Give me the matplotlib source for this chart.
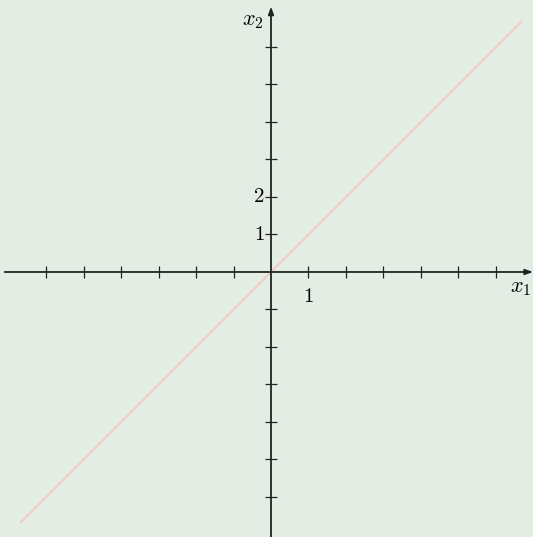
import numpy as np
import matplotlib
matplotlib.use("Agg")
import matplotlib.pyplot as plt

plt.rcParams['mathtext.fontset'] = 'cm'
plt.rcParams['font.family'] = 'serif'
plt.rcParams['font.serif'] = ['DejaVu Serif']

# data
line_x = [-6.67, 6.67]
line_y = [-6.67, 6.67]
x_ticks = [-6, -5, -4, -3, -2, -1, 1, 2, 3, 4, 5, 6]
y_ticks = [-6, -5, -4, -3, -2, -1, 1, 2, 3, 4, 5, 6]
x_tick_labels = {1: r"$1$"}
y_tick_labels = {1: r"$1$", 2: r"$2$"}

bg = '#e4ede4'
ax_col = '#222222'

fig = plt.figure(figsize=(5.33, 5.37), dpi=100, facecolor=bg)
ax = fig.add_axes([0, 0, 1, 1])
ax.set_facecolor(bg)
ax.set_xlim(-7.227, 6.987)
ax.set_ylim(-7.067, 7.253)
ax.axis('off')

# the line y = x
ax.plot(line_x, line_y, color='#f7c6c0', lw=1.3, zorder=2)

# axes with arrows
ax.annotate('', xy=(6.99, 0), xytext=(-7.1, 0),
            arrowprops=dict(arrowstyle='-|>,head_length=0.45,head_width=0.16',
                            color=ax_col, lw=1.3, shrinkA=0, shrinkB=0), zorder=3)
ax.annotate('', xy=(0, 7.08), xytext=(0, -7.1),
            arrowprops=dict(arrowstyle='-|>,head_length=0.45,head_width=0.16',
                            color=ax_col, lw=1.3, shrinkA=0, shrinkB=0), zorder=3)

# tick marks
ax.plot(x_ticks, [0] * len(x_ticks), ls='none', marker='|', ms=8, mew=0.9, color=ax_col, zorder=3)
ax.plot([0] * len(y_ticks), y_ticks, ls='none', marker='_', ms=8, mew=0.9, color=ax_col, zorder=3)

for v, s in x_tick_labels.items():
    ax.text(v, -0.4, s, ha='center', va='top', fontsize=15)
for v, s in y_tick_labels.items():
    ax.text(-0.17, v, s, ha='right', va='center', fontsize=15)

ax.text(6.65, -0.12, r'$x_1$', ha='center', va='top', fontsize=16)
ax.text(-0.2, 6.72, r'$x_2$', ha='right', va='center', fontsize=16)

fig.savefig('out.png', dpi=100, facecolor=bg)
